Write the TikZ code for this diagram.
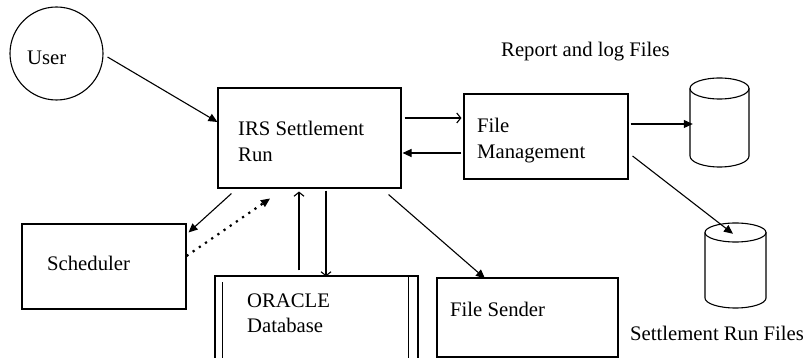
\documentclass[tikz,border=0pt]{standalone}
\usepackage{fontspec}
\setmainfont{Liberation Serif}
\usetikzlibrary{arrows.meta,calc}
\tikzset{
  box/.style={draw, line width=1.1pt, rectangle, inner sep=0pt},
  lbl/.style={inner sep=0pt, anchor=base west, font=\fontsize{20.7pt}{24pt}\selectfont},
  conn/.style={line width=1.1pt},
  farr/.style={conn, -{Triangle[length=9pt,width=8pt]}},
  oarr/.style={conn, -{Straight Barb[length=4pt,width=10pt]}},
  dotarr/.style={line width=2.2pt, dash pattern=on 2.2pt off 5.3pt, -{Triangle[length=9pt,width=8pt,line width=1.1pt]}},
}
\begin{document}
\begin{tikzpicture}[x=1pt,y=-1pt]
\useasboundingbox (0,0) rectangle (807,358);

% nodes
\node[draw, line width=1.1pt, circle, minimum size=93pt, inner sep=0pt] (user) at (56.5,53.5) {};
\node[box, minimum width=183pt, minimum height=100pt] (irs) at (309.5,138) {};
\node[box, minimum width=164pt, minimum height=85pt] (fm) at (546,136.5) {};
\node[box, minimum width=164pt, minimum height=85pt] (sched) at (104,266.5) {};
\node[box, minimum width=203pt, minimum height=124pt] (db) at (316.5,338) {};
\node[box, minimum width=181pt, minimum height=79pt] (fs) at (527.5,317.5) {};
\node[inner sep=0pt, minimum width=59pt, minimum height=89pt] (cyla) at (719.5,122.5) {};
\node[inner sep=0pt, minimum width=61pt, minimum height=85pt] (cylb) at (735.5,265.5) {};

% database inner lines
\draw[conn] ($(db.north west)+(8,7)$) -- ($(db.south west)+(8,0)$);
\draw[conn] ($(db.north east)+(-10,0)$) -- ($(db.south east)+(-10,0)$);

% cylinders
\draw[conn] (719.5,88.5) ellipse [x radius=29.5pt, y radius=10.5pt];
\draw[conn] (690,88.5) -- (690,156) arc[start angle=180, end angle=360, x radius=29.5pt, y radius=11pt] -- (749,88.5);
\draw[conn] (735.5,232.5) ellipse [x radius=30.5pt, y radius=9.5pt];
\draw[conn] (705,232.5) -- (705,298) arc[start angle=180, end angle=360, x radius=30.5pt, y radius=10pt] -- (766,232.5);

% texts
\node[lbl] (tuser) at (27,65) {User};
\node[lbl] (tirs1) at (238,136) {IRS Settlement};
\node[lbl] (tirs2) at (238,162) {Run};
\node[lbl] (tfm1) at (477,133) {File};
\node[lbl] (tfm2) at (477,159) {Management};
\node[lbl] (trep) at (501,57) {Report and log Files};
\node[lbl] (tsch) at (47,271) {Scheduler};
\node[lbl] (tdb1) at (247,308) {ORACLE};
\node[lbl] (tdb2) at (247,333) {Database};
\node[lbl] (tfs) at (450,317) {File Sender};
\node[lbl] (tsrf) at (630,341) {Settlement Run Files};

% connectors
\draw[farr] ($(user.east)+(4,3.5)$) -- ($(irs.west)+(0,-16)$);
\draw[oarr] ($(irs.east)+(3,-20)$) -- ($(fm.west)+(-2,-18.5)$);
\draw[farr] ($(fm.west)+(-2,16.5)$) -- ($(irs.east)+(1,15)$);
\draw[farr] ($(fm.east)+(2,-12.5)$) -- ($(cyla.west)+(3,1.5)$);
\draw[farr] ($(fm.east)+(4,19.5)$) -- ($(cylb.north)+(-2.5,11)$);
\draw[farr] ($(irs.south west)+(14,5)$) -- ($(sched.north east)+(2,9)$);
\draw[dotarr] ($(sched.east)+(0,-10.5)$) -- ($(irs.south)+(-39.5,10)$);
\draw[oarr] ($(db.north)+(-17.5,-5)$) -- ($(irs.south)+(-10.5,3)$);
\draw[oarr] ($(irs.south)+(16.5,2)$) -- ($(db.north)+(9.5,1)$);
\draw[farr] ($(irs.south east)+(-13,6)$) -- ($(fs.north)+(-42.5,1)$);
\end{tikzpicture}
\end{document}
